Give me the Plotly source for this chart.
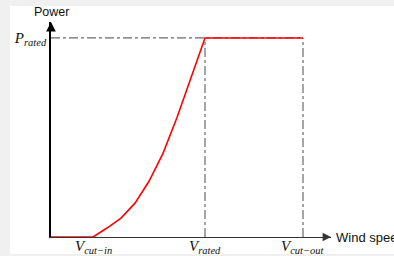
import plotly.graph_objects as go

# Data (normalised units)
v_cut_in, v_rated, v_cut_out = 1.5, 5.5, 9.0
p_rated = 1.0
v_curve = [0.0, 1.5, 2.0, 2.5, 3.0, 3.5, 4.0, 4.5, 5.0, 5.5, 9.0]
p_curve = [0.0, 0.0, 0.045, 0.095, 0.17, 0.28, 0.42, 0.6, 0.8, 1.0, 1.0]

x_tick_vals = [v_cut_in, v_rated, v_cut_out]
x_tick_text = ["<i>V</i><sub><i>cut−in</i></sub>",
               "<i>V</i><sub><i>rated</i></sub>",
               "<i>V</i><sub><i>cut−out</i></sub>"]
y_tick_vals = [p_rated]
y_tick_text = ["<i>P</i><sub><i>rated</i></sub>"]

x_max, y_max = 10.0, 1.08

fig = go.Figure()
dash_style = dict(color="#6a6a6a", width=1.2, dash="dashdot")
# reference lines
fig.add_trace(go.Scatter(x=[0, v_cut_out], y=[p_rated, p_rated], mode="lines",
                         line=dash_style, hoverinfo="skip", cliponaxis=False))
fig.add_trace(go.Scatter(x=[v_rated, v_rated], y=[0, p_rated], mode="lines",
                         line=dash_style, hoverinfo="skip", cliponaxis=False))
fig.add_trace(go.Scatter(x=[v_cut_out, v_cut_out], y=[0, p_rated], mode="lines",
                         line=dash_style, hoverinfo="skip", cliponaxis=False))
# power curve
fig.add_trace(go.Scatter(x=v_curve, y=p_curve, mode="lines", cliponaxis=False,
                         line=dict(color="#ff0000", width=1.6)))

# axis arrowheads (short arrows at the axis ends)
fig.add_annotation(x=x_max, y=0, ax=x_max - 0.3, ay=0, xref="x", yref="y", axref="x", ayref="y",
                   showarrow=True, arrowhead=2, arrowsize=1.2, arrowwidth=1.4,
                   arrowcolor="#333333", text="")
fig.add_annotation(x=0, y=y_max, ax=0, ay=y_max - 0.05, xref="x", yref="y", axref="x", ayref="y",
                   showarrow=True, arrowhead=2, arrowsize=1.2, arrowwidth=1.6,
                   arrowcolor="#000000", text="")
# axis titles
fig.add_annotation(x=0, y=y_max, xref="x", yref="y", yshift=10, text="Power",
                   showarrow=False, font=dict(family="Liberation Sans", size=12.5, color="#111"))
fig.add_annotation(x=x_max, y=0, xref="x", yref="y", xshift=3, text="Wind speed",
                   xanchor="left", showarrow=False,
                   font=dict(family="Liberation Sans", size=13, color="#111"))

# x tick labels (math style) placed just under the axis
for xv, xt in zip(x_tick_vals, x_tick_text):
    fig.add_annotation(x=xv, y=0, xref="x", yref="y", text=xt, showarrow=False,
                       yanchor="top", yshift=0, borderpad=0,
                       font=dict(family="Liberation Serif", size=15, color="#111"))

# white card over gray page
fig.add_shape(type="rect", xref="paper", yref="paper", x0=-0.146, x1=1.6, y0=-0.079, y1=1.074,
              fillcolor="white", line_width=0, layer="below")

fig.update_layout(
    width=394, height=256,
    margin=dict(l=51, r=63, t=22, b=19, autoexpand=False),
    paper_bgcolor="#f0f0f0", plot_bgcolor="rgba(0,0,0,0)",
    showlegend=False,
    xaxis=dict(range=[0, x_max], showgrid=False, zeroline=False,
               showline=True, linecolor="#333333", linewidth=1.4, layer="below traces",
               showticklabels=False, ticks="", automargin=False),
    yaxis=dict(range=[0, y_max], showgrid=False, zeroline=False,
               showline=True, linecolor="#000000", linewidth=1.6, layer="below traces",
               tickvals=y_tick_vals, ticktext=y_tick_text, ticks="", automargin=False,
               tickfont=dict(family="Liberation Serif", size=15, color="#111")),
)
fig.write_html("out.html", post_script="document.body.style.margin='0';",
               config={"displayModeBar": False})
